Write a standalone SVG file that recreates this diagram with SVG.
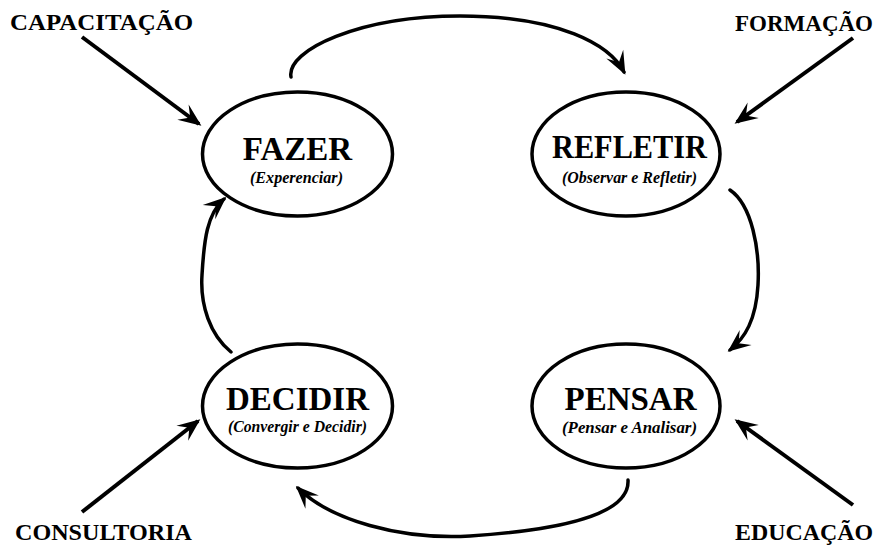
<svg xmlns="http://www.w3.org/2000/svg" width="880" height="545" viewBox="0 0 880 545">
  <style>
    .node ellipse { fill: #ffffff; stroke: #000000; stroke-width: 3.5; }
    .title { font-family: "Liberation Serif", "Times New Roman", serif; font-weight: bold; font-size: 33px; text-anchor: middle; fill: #000; }
    .sub { font-family: "Liberation Serif", "Times New Roman", serif; font-weight: bold; font-style: italic; font-size: 16px; text-anchor: middle; fill: #000; }
    .label { font-family: "Liberation Serif", "Times New Roman", serif; font-weight: bold; font-size: 24px; fill: #000; }
    .cycle { fill: none; stroke: #000; stroke-width: 3.5; stroke-linecap: round; marker-end: url(#head); }
    .input { fill: none; stroke: #000; stroke-width: 4; marker-end: url(#head); }
  </style>
  <defs>
    <marker id="head" markerUnits="userSpaceOnUse" viewBox="-24 -11 27 22" markerWidth="27" markerHeight="22" refX="-3" refY="0" orient="auto">
      <path d="M0,0 L-23,-9.5 L-14,0 L-23,9.5 Z" fill="#000"/>
    </marker>
  </defs>

  <rect width="880" height="545" fill="#ffffff"/>

  <!-- connectors -->
  <g id="connectors">
    <!-- cycle: fazer -> refletir -> pensar -> decidir -> fazer -->
    <path class="cycle" d="M291,77 C286,50 360,16 460,16 C560,16 610,45 624,72"/>
    <path class="cycle" d="M730,190 C752,205 760,250 758,285 C756,320 745,338 730,350"/>
    <path class="cycle" d="M628,480 C630,515 560,530 470,536 C400,540 330,520 298,488"/>
    <path class="cycle" d="M231,352 C210,335 200,305 202,275 C204,240 207,214 224,199"/>
    <!-- external inputs -->
    <path class="input" d="M82,37 L199,124"/>
    <path class="input" d="M853,38 L737,122"/>
    <path class="input" d="M82,512 L198,421"/>
    <path class="input" d="M853,505 L737,421"/>
  </g>

  <!-- nodes -->
  <g id="fazer" class="node">
    <ellipse cx="297.5" cy="154" rx="95" ry="62"/>
    <text class="title" x="297.5" y="160">FAZER</text>
    <text class="sub" x="296.5" y="183" textLength="93" lengthAdjust="spacingAndGlyphs">(Experenciar)</text>
  </g>
  <g id="refletir" class="node">
    <ellipse cx="626" cy="154" rx="94" ry="62"/>
    <text class="title" x="629.5" y="158" textLength="155" lengthAdjust="spacingAndGlyphs">REFLETIR</text>
    <text class="sub" x="629.5" y="183" textLength="135" lengthAdjust="spacingAndGlyphs">(Observar e Refletir)</text>
  </g>
  <g id="decidir" class="node">
    <ellipse cx="297.5" cy="406" rx="95" ry="62"/>
    <text class="title" x="297.5" y="410">DECIDIR</text>
    <text class="sub" x="297.5" y="432" textLength="139" lengthAdjust="spacingAndGlyphs">(Convergir e Decidir)</text>
  </g>
  <g id="pensar" class="node">
    <ellipse cx="626" cy="406" rx="94" ry="62"/>
    <text class="title" x="630.5" y="410">PENSAR</text>
    <text class="sub" x="629.5" y="433" textLength="135" lengthAdjust="spacingAndGlyphs">(Pensar e Analisar)</text>
  </g>

  <!-- external labels -->
  <g id="capacitacao"><text class="label" x="10" y="30" textLength="183" lengthAdjust="spacingAndGlyphs">CAPACITAÇÃO</text></g>
  <g id="formacao"><text class="label" x="735" y="31" textLength="138" lengthAdjust="spacingAndGlyphs">FORMAÇÃO</text></g>
  <g id="consultoria"><text class="label" x="15" y="540" textLength="177" lengthAdjust="spacingAndGlyphs">CONSULTORIA</text></g>
  <g id="educacao"><text class="label" x="735" y="540" textLength="138" lengthAdjust="spacingAndGlyphs">EDUCAÇÃO</text></g>
</svg>
